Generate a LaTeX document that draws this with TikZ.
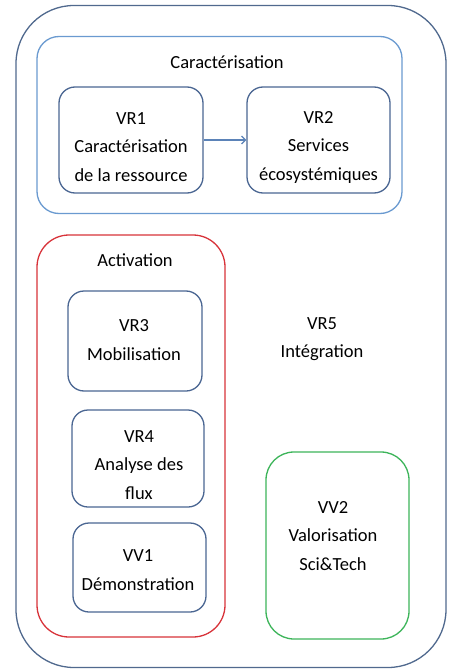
\documentclass[tikz,border=0pt]{standalone}
\usepackage{fontspec}
\setmainfont{Carlito}
\usetikzlibrary{arrows.meta}
\definecolor{outerc}{HTML}{50698E}
\definecolor{caractc}{HTML}{6A9AD0}
\definecolor{boxc}{HTML}{4A6692}
\definecolor{redc}{HTML}{D8333A}
\definecolor{greenc}{HTML}{3DB55A}
\definecolor{arrowc}{HTML}{5B83B8}
\tikzset{
  frame/.style={draw, line width=1.3pt, rounded corners=#1, inner sep=0pt},
  vbox/.style={frame=16pt, draw=boxc},
  lbl/.style={font=\fontsize{18.5}{28.5}\selectfont, align=center, text=black, inner sep=0pt},
}
\begin{document}
\begin{tikzpicture}[x=1pt,y=-1pt]
\path[use as bounding box, fill=white] (0,0) rectangle (452,671);
% outer
\node[frame=58pt, draw=outerc, minimum width=430pt, minimum height=662pt] (outer) at (231,336.5) {};
% Caractérisation group
\node[frame=22pt, draw=caractc, minimum width=365pt, minimum height=177pt] (caract) at (219.5,125) {};
\node[lbl] (caractl) at (227,62) {Caractérisation};
\node[vbox, minimum width=144pt, minimum height=106pt] (vr1) at (131,140) {};
\node[lbl] (vr1t) at (131,147) {VR1\\Caractérisation\\de la ressource};
\node[vbox, minimum width=143pt, minimum height=106pt] (vr2) at (318.5,140) {};
\node[lbl] (vr2t) at (318.5,147) {VR2\\Services\\écosystémiques};
\draw[arrowc, line width=1.2pt, -{Straight Barb[length=4pt,width=8pt]}] (vr1) -- (vr2);
% Activation group
\node[frame=32pt, draw=redc, minimum width=188pt, minimum height=402pt] (activ) at (131,436) {};
\node[lbl] (activl) at (135,260) {Activation};
\node[vbox, minimum width=134pt, minimum height=100pt] (vr3) at (135,341) {};
\node[lbl] (vr3t) at (134,340) {VR3\\Mobilisation};
\node[vbox, minimum width=132pt, minimum height=97pt] (vr4) at (138,458.5) {};
\node[lbl] (vr4t) at (139,465) {VR4\\Analyse des\\flux};
\node[vbox, minimum width=133pt, minimum height=89pt] (vv1) at (139.5,567.5) {};
\node[lbl] (vv1t) at (138,570) {VV1\\Démonstration};
% VR5
\node[lbl] (vr5) at (322,339) {VR5\\Intégration};
% VV2
\node[frame=28pt, draw=greenc, minimum width=143pt, minimum height=187pt] (vv2) at (337.5,545.5) {};
\node[lbl] (vv2t) at (333,536) {VV2\\Valorisation\\Sci\&Tech};
\end{tikzpicture}
\end{document}
